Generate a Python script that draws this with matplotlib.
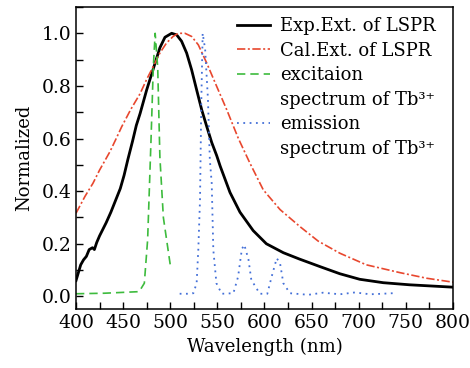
import matplotlib
matplotlib.use("Agg")
import matplotlib.pyplot as plt
from matplotlib.lines import Line2D
from matplotlib.ticker import MultipleLocator

plt.rcParams['font.family'] = ['DejaVu Serif', 'DejaVu Sans']

# experimental extinction of LSPR
exp_x = [400, 405, 408, 411, 414, 417.5, 419.5, 422, 425, 432, 437, 442, 447, 451, 455,
         460, 464, 468, 475, 482, 489, 494.4, 501.5, 506.8, 512, 517.4, 522.7, 528,
         533.4, 538.7, 544, 549.3, 553, 563.4, 574, 588, 602, 620, 637, 659, 680, 701,
         726, 754, 800]
exp_y = [0.06, 0.12, 0.139, 0.152, 0.178, 0.185, 0.178, 0.205, 0.23, 0.28, 0.32, 0.365,
         0.41, 0.46, 0.52, 0.59, 0.65, 0.695, 0.785, 0.865, 0.945, 0.985, 1.0, 0.994,
         0.97, 0.925, 0.861, 0.785, 0.709, 0.646, 0.585, 0.535, 0.495, 0.395, 0.32, 0.25,
         0.2, 0.166, 0.142, 0.113, 0.086, 0.065, 0.052, 0.044, 0.035]

# calculated extinction of LSPR
cal_x = [400, 409.5, 418, 425, 436, 442, 448.5, 458, 467.9, 475, 482, 489, 496, 503,
         508.5, 515.6, 522.7, 529.8, 538.7, 549.3, 560, 572.3, 584.6, 598.7, 616.5,
         637.7, 657, 680, 708, 744, 772, 800]
cal_y = [0.316, 0.38, 0.43, 0.48, 0.55, 0.595, 0.645, 0.71, 0.77, 0.825, 0.874, 0.925,
         0.963, 0.988, 1.0, 1.0, 0.988, 0.956, 0.887, 0.798, 0.709, 0.6, 0.506, 0.405,
         0.33, 0.265, 0.21, 0.164, 0.12, 0.09, 0.069, 0.054]

# excitation spectrum of Tb3+
exc_x = [400, 430, 467, 472.5, 476, 477.8, 479.6, 482, 484, 486.7, 489, 492.7, 500]
exc_y = [0.01, 0.012, 0.018, 0.05, 0.215, 0.405, 0.595, 0.87, 1.0, 0.87, 0.53, 0.30, 0.12]

# emission spectrum of Tb3+
emi_x = [510, 518, 524.5, 528, 529.8, 531.6, 533, 534.4, 537, 540, 542, 544, 545.7,
         549, 554.6, 567, 572, 576, 578.6, 583, 586, 595, 603, 607.6, 613, 616.5, 620,
         627, 646.5, 662, 680, 696, 712, 725, 736]
emi_y = [0.01, 0.01, 0.012, 0.05, 0.18, 0.37, 0.75, 1.0, 0.94, 0.75, 0.52, 0.43, 0.177,
         0.05, 0.01, 0.012, 0.075, 0.18, 0.196, 0.14, 0.063, 0.01, 0.01, 0.075, 0.145,
         0.126, 0.05, 0.012, 0.006, 0.014, 0.008, 0.015, 0.008, 0.01, 0.012]

labels = ['Exp.Ext. of LSPR', 'Cal.Ext. of LSPR', 'excitaion',
          'spectrum of Tb³⁺', 'emission', 'spectrum of Tb³⁺']

fig = plt.figure(figsize=(4.7, 3.68), dpi=100)
ax = fig.add_axes([0.1617, 0.1603, 0.8021, 0.8207])

red = '#e8472e'
green = '#3dbb3d'
blue = '#4470d8'

l1, = ax.plot(exp_x, exp_y, color='black', lw=2.0)
l2, = ax.plot(cal_x, cal_y, color=red, lw=1.2, dashes=(5, 1.5, 1.2, 1.5))
l3, = ax.plot(exc_x, exc_y, color=green, lw=1.2, dashes=(5, 3))
l4, = ax.plot(emi_x, emi_y, color=blue, lw=1.3, dashes=(1, 2.5))

blank = Line2D([], [], color='none')
ax.legend([l1, l2, l3, blank, l4, blank], labels, loc='upper right', frameon=False,
          fontsize=13, handlelength=1.8, handletextpad=0.55, labelspacing=0.36,
          borderaxespad=0.3, bbox_to_anchor=(0.987, 1.008))

ax.set_xlim(400, 800)
ax.set_ylim(-0.048, 1.10)
ax.xaxis.set_major_locator(MultipleLocator(50))
ax.xaxis.set_minor_locator(MultipleLocator(25))
ax.yaxis.set_minor_locator(MultipleLocator(0.1))
ax.set_yticks([0, 0.2, 0.4, 0.6, 0.8, 1.0])
ax.set_yticklabels(['0.0', '0.2', '0.4', '0.6', '0.8', '1.0'])
ax.tick_params(which='both', direction='in', length=5, width=1, labelsize=13.5,
               top=False, right=False)
for s in ax.spines.values():
    s.set_linewidth(1.1)

ax.set_xlabel('Wavelength (nm)', fontsize=13, labelpad=4)
ax.set_ylabel('Normalized', fontsize=13, labelpad=6)

fig.savefig('out.png', dpi=100)
